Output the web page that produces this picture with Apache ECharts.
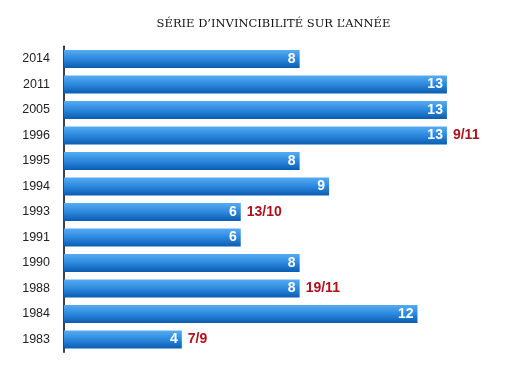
<!DOCTYPE html>
<html><head><meta charset="utf-8">
<script src="https://cdn.jsdelivr.net/npm/echarts@6/dist/echarts.min.js"></script>
<style>html,body{margin:0;padding:0;background:#fff}#c{width:506px;height:366px}</style>
</head><body><div id="c"></div>
<script>
const years = ['2014','2011','2005','1996','1995','1994','1993','1991','1990','1988','1984','1983'];
const values = [8,13,13,13,8,9,6,6,8,8,12,4];
const notes = ['','','','9/11','','','13/10','','','19/11','','7/9'];
const titleText = 'SÉRIE D\u2019INVINCIBILITÉ SUR L\u2019ANNÉE';

const chart = echarts.init(document.getElementById('c'), null, {renderer:'canvas'});
const grad = new echarts.graphic.LinearGradient(0,0,0,1,[
  {offset:0,color:'#56acf2'},
  {offset:0.5,color:'#2c88de'},
  {offset:1,color:'#0a5cb0'}
]);
chart.setOption({
  animation:false,
  title:{text:titleText,left:268.5,top:13.5,textAlign:'center',
    textStyle:{fontFamily:'DejaVu Serif',fontSize:11.5,fontWeight:'normal',color:'#111'}},
  grid:{left:64,right:29.6,top:46.25,bottom:13.75,containLabel:false},
  xAxis:{type:'value',min:0,max:14,show:false,splitLine:{show:false}},
  yAxis:{type:'category',data:years,inverse:true,
    axisLine:{lineStyle:{color:'#000',width:1.5}},axisTick:{show:false},
    axisLabel:{margin:14,fontFamily:'Liberation Sans',fontSize:12.5,color:'#222'}},
  series:[
    {type:'bar',data:values,barWidth:18,itemStyle:{color:grad},
      label:{show:true,position:'insideRight',distance:4,color:'#fff',
        fontFamily:'Liberation Sans',fontWeight:'bold',fontSize:14}},
    {type:'bar',data:values,barWidth:18,barGap:'-100%',itemStyle:{color:'rgba(0,0,0,0)'},
      silent:true,
      label:{show:true,position:'right',distance:6,color:'#b0101c',
        fontFamily:'Liberation Sans',fontWeight:'bold',fontSize:14,
        formatter:p=>notes[p.dataIndex]}}
  ]
});
</script></body></html>
